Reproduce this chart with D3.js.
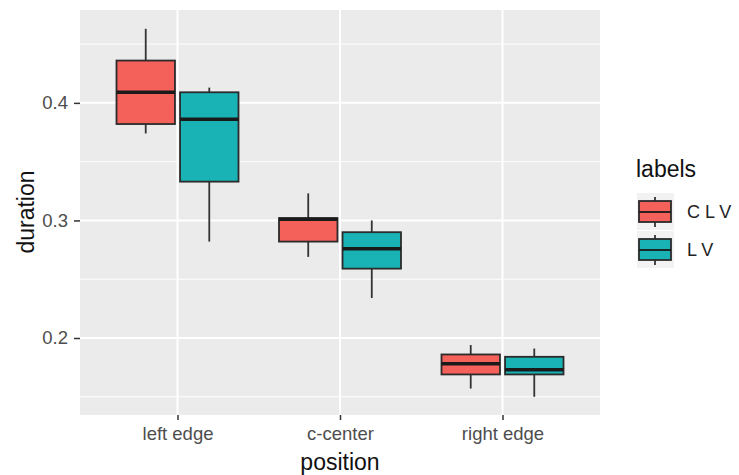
<!DOCTYPE html>
<html>
<head>
<meta charset="utf-8">
<script src="https://cdn.jsdelivr.net/npm/d3@7"></script>
<style>
  body { margin: 0; background: #fff; }
  text { font-family: "Liberation Sans", Arial, sans-serif; }
</style>
</head>
<body>
<div id="canvas"></div>
<script>
// boxplot stats, one array per stat
const positions = ["left edge", "c-center", "right edge"];
const labels = ["C L V", "L V"];
const ymin   = [[0.374, 0.282], [0.269, 0.234], [0.157, 0.150]];
const lower  = [[0.382, 0.333], [0.282, 0.259], [0.169, 0.169]];
const middle = [[0.409, 0.386], [0.301, 0.276], [0.178, 0.173]];
const upper  = [[0.436, 0.409], [0.302, 0.290], [0.186, 0.184]];
const ymax   = [[0.463, 0.413], [0.323, 0.300], [0.194, 0.191]];
const yTicks = [0.2, 0.3, 0.4];
const yMinor = [0.15, 0.25, 0.35, 0.45];
const colors = ["#F4605A", "#19B3B6"];

const width = 739, height = 475;
const panel = { left: 80, right: 600, top: 10, bottom: 415 };

const svg = d3.select("#canvas").append("svg")
  .attr("width", width).attr("height", height);

const y = d3.scaleLinear().domain([0.1345, 0.479]).range([panel.bottom, panel.top]);
// ggplot style discrete axis: 0.6 expansion each side
const x = d3.scalePoint().domain(positions)
  .range([panel.left + 0.6 * 162.5, panel.right - 0.6 * 162.5]);
const xSub = d3.scaleBand().domain(labels).range([-61, 61]).paddingInner(0.08);

// panel background + grid
svg.append("rect").attr("x", panel.left).attr("y", panel.top)
  .attr("width", panel.right - panel.left).attr("height", panel.bottom - panel.top)
  .attr("fill", "#EBEBEB");
svg.selectAll(".minor").data(yMinor).join("line")
  .attr("x1", panel.left).attr("x2", panel.right)
  .attr("y1", d => y(d)).attr("y2", d => y(d))
  .attr("stroke", "#fff").attr("stroke-width", 1);
svg.selectAll(".major").data(yTicks).join("line")
  .attr("x1", panel.left).attr("x2", panel.right)
  .attr("y1", d => y(d)).attr("y2", d => y(d))
  .attr("stroke", "#fff").attr("stroke-width", 2);
svg.selectAll(".vgrid").data(positions).join("line")
  .attr("x1", d => x(d)).attr("x2", d => x(d))
  .attr("y1", panel.top).attr("y2", panel.bottom)
  .attr("stroke", "#fff").attr("stroke-width", 2);

// axes
const yAxis = svg.append("g").attr("transform", `translate(${panel.left},0)`)
  .call(d3.axisLeft(y).tickValues(yTicks).tickSize(6).tickPadding(6).tickFormat(d3.format(".1f")));
const xAxis = svg.append("g").attr("transform", `translate(0,${panel.bottom})`)
  .call(d3.axisBottom(x).tickSize(5).tickPadding(7));
[yAxis, xAxis].forEach(g => {
  g.select(".domain").remove();
  g.selectAll(".tick line").attr("stroke", "#333").attr("stroke-width", 1.5);
  g.selectAll(".tick text").attr("fill", "#4D4D4D").style("font-size", "18.5px")
    .style("font-family", "Liberation Sans, Arial, sans-serif");
});

// boxes
positions.forEach((p, i) => {
  labels.forEach((l, j) => {
    const cx = x(p) + xSub(l) + xSub.bandwidth() / 2;
    const x0 = x(p) + xSub(l);
    const g = svg.append("g");
    g.append("line").attr("x1", cx).attr("x2", cx)
      .attr("y1", y(ymax[i][j])).attr("y2", y(upper[i][j]))
      .attr("stroke", "#333").attr("stroke-width", 1.8);
    g.append("line").attr("x1", cx).attr("x2", cx)
      .attr("y1", y(lower[i][j])).attr("y2", y(ymin[i][j]))
      .attr("stroke", "#333").attr("stroke-width", 1.8);
    g.append("rect").attr("x", x0).attr("width", xSub.bandwidth())
      .attr("y", y(upper[i][j])).attr("height", y(lower[i][j]) - y(upper[i][j]))
      .attr("fill", colors[j]).attr("stroke", "#2B2B2B").attr("stroke-width", 1.8);
    g.append("line").attr("x1", x0).attr("x2", x0 + xSub.bandwidth())
      .attr("y1", y(middle[i][j])).attr("y2", y(middle[i][j]))
      .attr("stroke", "#1A1A1A").attr("stroke-width", 3.5);
  });
});

// axis titles
svg.append("text").attr("x", x("c-center")).attr("y", 470)
  .attr("text-anchor", "middle").style("font-size", "23px").attr("fill", "#111")
  .text("position");
svg.append("text").attr("transform", "translate(34,212) rotate(-90)")
  .attr("text-anchor", "middle").style("font-size", "23px").attr("fill", "#111")
  .text("duration");

// legend
const leg = svg.append("g").attr("transform", "translate(637,0)");
leg.append("text").attr("x", -1).attr("y", 177).style("font-size", "23px").attr("fill", "#111")
  .text("labels");
labels.forEach((l, j) => {
  const ky = 193 + j * 38;
  leg.append("rect").attr("x", 0).attr("y", ky).attr("width", 37).attr("height", 37)
    .attr("fill", "#F2F2F2");
  leg.append("line").attr("x1", 18).attr("x2", 18).attr("y1", ky + 4).attr("y2", ky + 34)
    .attr("stroke", "#333").attr("stroke-width", 1.8);
  leg.append("rect").attr("x", 2).attr("y", ky + 8).attr("width", 32).attr("height", 21)
    .attr("fill", colors[j]).attr("stroke", "#2B2B2B").attr("stroke-width", 1.8);
  leg.append("line").attr("x1", 2).attr("x2", 34).attr("y1", ky + 19).attr("y2", ky + 19)
    .attr("stroke", "#1A1A1A").attr("stroke-width", 1.8);
  leg.append("text").attr("x", 50).attr("y", ky + 25).style("font-size", "18px")
    .attr("fill", "#222").text(l);
});
</script>
</body>
</html>
